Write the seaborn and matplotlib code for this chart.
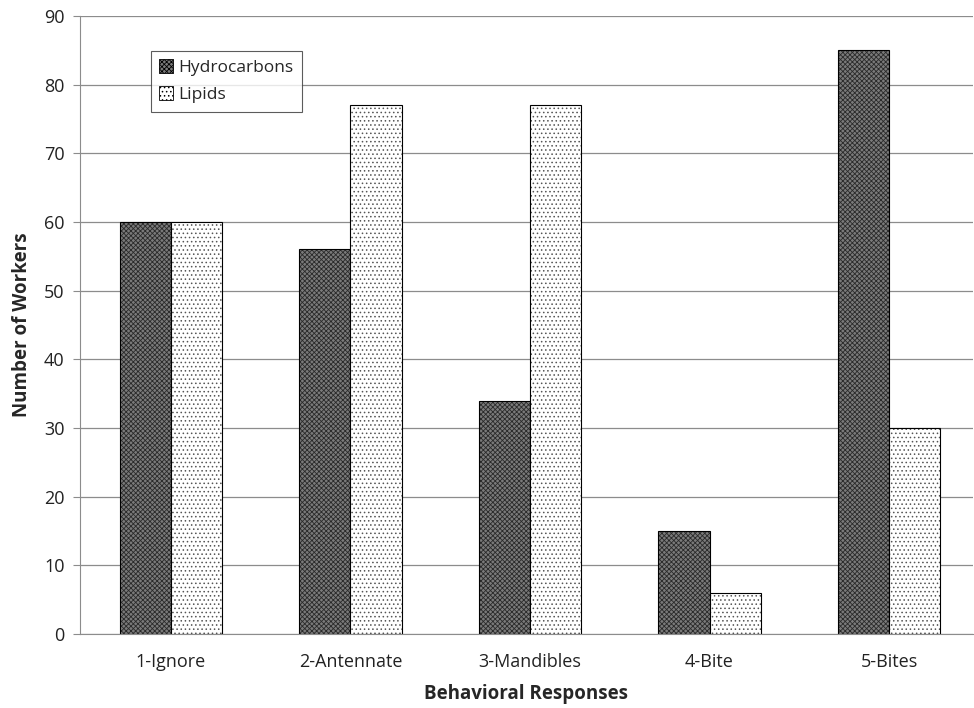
import matplotlib
matplotlib.use("Agg")
import matplotlib.pyplot as plt
import seaborn as sns
import pandas as pd
from matplotlib.patches import Patch

categories = ["1-Ignore", "2-Antennate", "3-Mandibles", "4-Bite", "5-Bites"]
hydrocarbons = [60, 56, 34, 15, 85]
lipids = [60, 77, 77, 6, 30]
series = ["Hydrocarbons", "Lipids"]

df = pd.DataFrame({
    "Response": categories * 2,
    "Count": hydrocarbons + lipids,
    "Series": [series[0]] * len(categories) + [series[1]] * len(categories),
})

sns.set_style("white")
plt.rcParams['font.family'] = ['Open Sans', 'DejaVu Sans']
plt.rcParams['hatch.linewidth'] = 0.6

fig = plt.figure(figsize=(9.74, 7.08), dpi=100)
ax = fig.add_axes([0.0821, 0.1045, 0.9169, 0.8729])

grid_c = "#8c8c8c"
ax.set_axisbelow(True)
ax.yaxis.grid(True, color=grid_c, linewidth=0.9)

sns.barplot(data=df, x="Response", y="Count", hue="Series", hue_order=series,
            order=categories, palette=["#7a7a7a", "#ffffff"], width=0.57,
            gap=0, edgecolor="black", linewidth=0.8, saturation=1, ax=ax,
            legend=False)

styles = {series[0]: ("#7a7a7a", "xxxxxxx", "#2a2a2a"), series[1]: ("#ffffff", "....", "#555555")}
for container, s in zip(ax.containers, series):
    fc, h, hc = styles[s]
    for bar in container:
        bar.set_facecolor(fc)
        bar.set_hatch(h)
        bar._hatch_color = matplotlib.colors.to_rgba(hc)

ax.set_ylim(0, 90)
ax.set_xlim(-0.507, 4.468)
ax.set_yticks(range(0, 91, 10))
ax.tick_params(axis="y", length=5, color=grid_c, labelsize=13, left=True, pad=6)
ax.tick_params(axis="x", length=0, labelsize=13, pad=14)
for lab in ax.get_xticklabels() + ax.get_yticklabels():
    lab.set_color("#222222")

for side in ["top", "right"]:
    ax.spines[side].set_visible(False)
ax.spines["left"].set_color(grid_c)
ax.spines["bottom"].set_color(grid_c)

ax.set_xlabel("Behavioral Responses", fontsize=13.5, fontweight="bold", labelpad=9)
ax.set_ylabel("Number of Workers", fontsize=13.5, fontweight="bold", labelpad=9)

handles = [Patch(facecolor=styles[s][0], hatch=styles[s][1], edgecolor="black", linewidth=0.6) for s in series]
leg = ax.legend(handles, series, loc="upper left", bbox_to_anchor=(0.079, 0.944),
                frameon=True, fancybox=False, edgecolor="#333333", fontsize=12.5,
                handlelength=0.8, handleheight=0.8, handletextpad=0.3,
                borderpad=0.5, labelspacing=0.6, borderaxespad=0)
leg.get_frame().set_linewidth(0.8)

fig.savefig("out.png", dpi=100)
